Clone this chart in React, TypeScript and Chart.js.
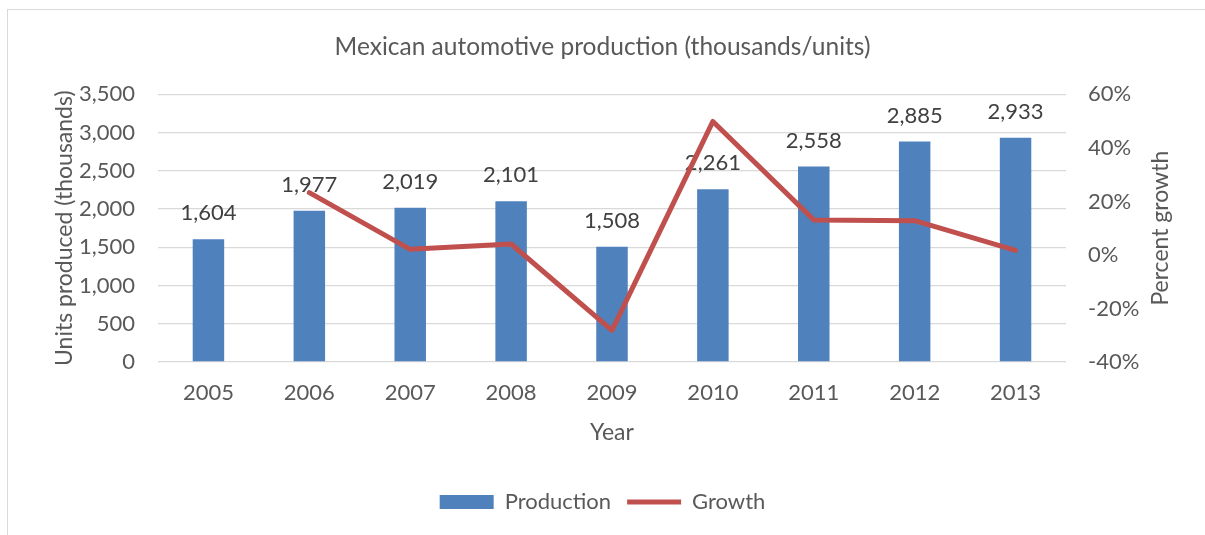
import React, { useEffect, useRef } from "react";
import { Chart, registerables } from "chart.js";

Chart.register(...registerables);

const years = ["2005", "2006", "2007", "2008", "2009", "2010", "2011", "2012", "2013"];
const production = [1604, 1977, 2019, 2101, 1508, 2261, 2558, 2885, 2933];
const growth = [null, 23.3, 2.1, 4.1, -28.2, 49.9, 13.1, 12.8, 1.7];
const leftTicks = [0, 500, 1000, 1500, 2000, 2500, 3000, 3500];
const rightTicks = [-40, -20, 0, 20, 40, 60];
const rightTitle = "Percent growth";

const FONT = "Lato, 'Open Sans', sans-serif";
const TEXT = "#595959";
const BAR = "#4F81BD";
const LINE = "#C0504D";
const GRID = "#d9d9d9";

const labelPlugin = {
  id: "barLabels",
  afterDatasetDraw(chart: any, args: any) {
    if (args.index !== 0) return;
    const ctx = chart.ctx;
    const meta = chart.getDatasetMeta(0);
    ctx.save();
    ctx.font = `22px ${FONT}`;
    ctx.fillStyle = "#404040";
    ctx.textAlign = "center";
    ctx.textBaseline = "middle";
    meta.data.forEach((el: any, i: number) => {
      ctx.fillText(production[i].toLocaleString("en-US"), el.x, el.y - 26);
    });
    ctx.restore();
  },
};

const rightTitlePlugin = {
  id: "rightTitle",
  afterDraw(chart: any) {
    const ctx = chart.ctx;
    const s = chart.scales.y1;
    const cy = (s.top + s.bottom) / 2;
    ctx.save();
    ctx.translate(1161, cy);
    ctx.rotate(-Math.PI / 2);
    ctx.font = `23px ${FONT}`;
    ctx.fillStyle = TEXT;
    ctx.textAlign = "center";
    ctx.textBaseline = "middle";
    ctx.fillText(rightTitle, 0, 0);
    ctx.restore();
  },
};

export default function App() {
  const ref = useRef<HTMLCanvasElement>(null);
  useEffect(() => {
    if (!ref.current) return;
    const chart = new Chart(ref.current, {
      type: "bar",
      data: {
        labels: years,
        datasets: [
          {
            type: "bar",
            label: "Production",
            data: production,
            backgroundColor: BAR,
            yAxisID: "y",
            order: 1,
            barPercentage: 0.312,
            categoryPercentage: 1,
            pointStyle: "rect",
          } as any,
          {
            type: "line",
            label: "Growth",
            data: growth,
            borderColor: LINE,
            backgroundColor: LINE,
            borderWidth: 5,
            borderJoinStyle: "round",
            borderCapStyle: "round",
            pointRadius: 0,
            tension: 0,
            yAxisID: "y1",
            order: 0,
            pointStyle: "line",
          } as any,
        ],
      },
      options: {
        responsive: false,
        animation: false,
        devicePixelRatio: 1,
        layout: { padding: { left: 0, right: 0, top: 0, bottom: 12 } },
        plugins: {
          tooltip: { enabled: false },
          title: {
            display: true,
            text: "Mexican automotive production (thousands/units)",
            color: TEXT,
            font: { family: FONT, size: 24.5, weight: "normal" },
            padding: { top: 32, bottom: 33 },
          },
          legend: {
            position: "bottom",
            labels: {
              color: TEXT,
              font: { family: FONT, size: 22 },
              usePointStyle: true,
              pointStyleWidth: 54,
              boxHeight: 14,
              padding: 16,
              sort: (a: any, b: any) => a.datasetIndex - b.datasetIndex,
            },
          },
        },
        scales: {
          x: {
            grid: { display: false },
            border: { display: false },
            ticks: { color: TEXT, font: { family: FONT, size: 22 }, padding: 10 },
            title: {
              display: true,
              text: "Year",
              color: TEXT,
              font: { family: FONT, size: 23 },
              padding: { top: 0, bottom: 29 },
            },
            afterFit: (s: any) => {
              s.height = 113;
            },
          },
          y: {
            position: "left",
            min: 0,
            max: 3500,
            afterBuildTicks: (s: any) => {
              s.ticks = leftTicks.map((v) => ({ value: v }));
            },
            ticks: {
              color: TEXT,
              font: { family: FONT, size: 22 },
              padding: 23,
              callback: (v: any) => Number(v).toLocaleString("en-US"),
            },
            grid: { color: GRID, lineWidth: 1.3, drawTicks: false },
            border: { display: false },
            title: {
              display: true,
              text: "Units produced (thousands)",
              color: TEXT,
              font: { family: FONT, size: 23 },
              padding: { top: 51, bottom: 0 },
            },
            afterFit: (s: any) => {
              s.width = 158;
            },
          },
          y1: {
            position: "right",
            min: -40,
            max: 60,
            afterBuildTicks: (s: any) => {
              s.ticks = rightTicks.map((v) => ({ value: v }));
            },
            ticks: {
              color: TEXT,
              font: { family: FONT, size: 22 },
              padding: 22,
              callback: (v: any) => `${v}%`,
            },
            grid: { drawOnChartArea: false, drawTicks: false },
            border: { display: false },
            title: { display: false },
            afterFit: (s: any) => {
              s.width = 139;
            },
          },
        },
      },
      plugins: [labelPlugin, rightTitlePlugin],
    } as any);
    return () => chart.destroy();
  }, []);

  return (
    <div
      style={{
        position: "fixed",
        left: 0,
        top: 0,
        width: 1205,
        height: 535,
        overflow: "hidden",
        background: "#ffffff",
      }}
    >
      <div
        style={{
          position: "absolute",
          left: 7,
          top: 9,
          width: 1300,
          height: 700,
          border: "1px solid #d9d9d9",
          boxSizing: "border-box",
        }}
      />
      <canvas
        ref={ref}
        width={1205}
        height={535}
        style={{ position: "absolute", left: 0, top: 0, width: 1205, height: 535 }}
      />
    </div>
  );
}
